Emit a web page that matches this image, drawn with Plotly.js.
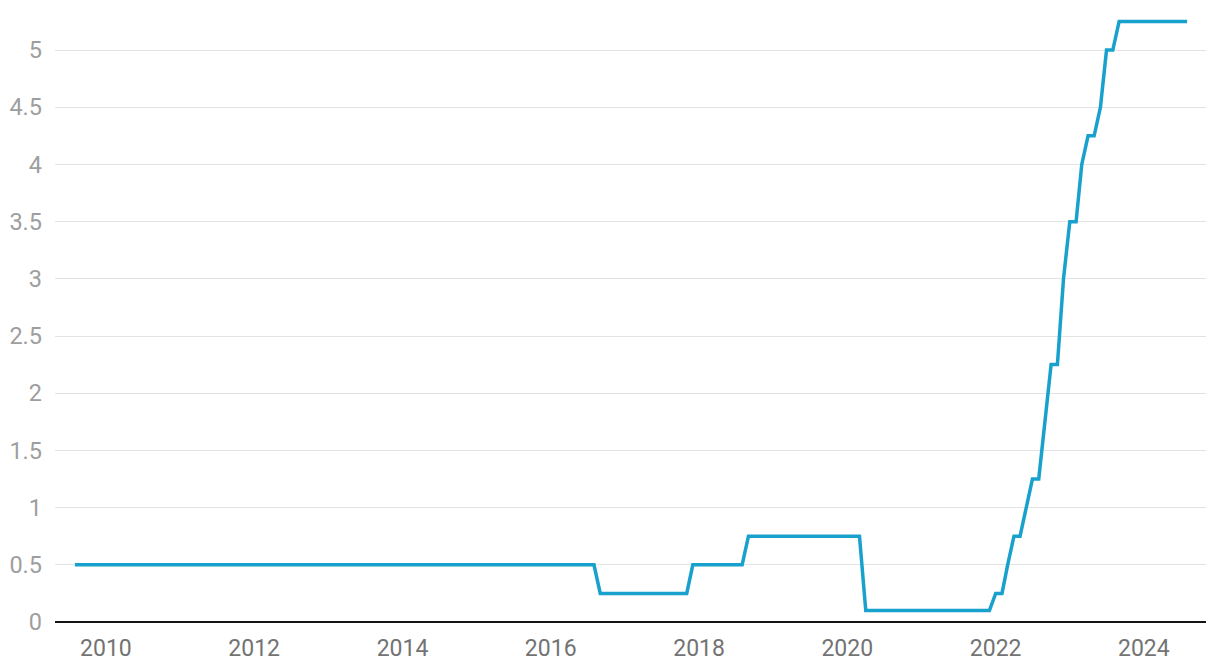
<!DOCTYPE html>
<html>
<head>
<meta charset="utf-8">
<script src="https://cdn.plot.ly/plotly-3.0.1.min.js"></script>
<style>html,body{margin:0;padding:0;background:#fff;}#chart{width:1220px;height:672px;}</style>
</head>
<body>
<div id="chart"></div>
<script>
// Monthly observations where the rate changes (start-of-month values)
const dates = [
  "2009-08-01","2016-08-01","2016-09-01","2017-11-01","2017-12-01",
  "2018-08-01","2018-09-01","2020-03-01","2020-04-01","2021-12-01",
  "2022-01-01","2022-02-01","2022-03-01","2022-04-01","2022-05-01",
  "2022-06-01","2022-07-01","2022-08-01","2022-09-01","2022-10-01",
  "2022-11-01","2022-12-01","2023-01-01","2023-02-01","2023-03-01",
  "2023-04-01","2023-05-01","2023-06-01","2023-07-01","2023-08-01",
  "2023-09-01","2024-08-01"
];
const rate = [
  0.5, 0.5, 0.25, 0.25, 0.5,
  0.5, 0.75, 0.75, 0.1, 0.1,
  0.25, 0.25, 0.5, 0.75, 0.75,
  1.0, 1.25, 1.25, 1.75, 2.25,
  2.25, 3.0, 3.5, 3.5, 4.0,
  4.25, 4.25, 4.5, 5.0, 5.0,
  5.25, 5.25
];
const yTicks = [0, 0.5, 1, 1.5, 2, 2.5, 3, 3.5, 4, 4.5, 5];
const yTickText = ["0", "0.5", "1", "1.5", "2", "2.5", "3", "3.5", "4", "4.5", "5"];

Plotly.newPlot("chart", [{
  x: dates, y: rate, type: "scatter", mode: "lines",
  line: {color: "#18a1cd", width: 3.5},
  hoverinfo: "x+y"
}], {
  width: 1220, height: 672,
  margin: {l: 55, r: 14, t: 10, b: 50},
  paper_bgcolor: "#fff", plot_bgcolor: "#fff",
  font: {family: "Roboto, sans-serif", size: 23},
  showlegend: false,
  xaxis: {
    type: "date",
    range: ["2009-04-25", "2024-11-02"],
    dtick: "M24", tick0: "2010-01-01", tickformat: "%Y",
    showgrid: false, zeroline: false, showline: false, ticks: "",
    tickfont: {color: "#737373", size: 23},
    ticklabelstandoff: 10
  },
  yaxis: {
    range: [0, 5.35],
    tickvals: yTicks, ticktext: yTickText,
    showgrid: true, gridcolor: "#e3e3e3", gridwidth: 1,
    zeroline: true, zerolinecolor: "#141414", zerolinewidth: 2,
    showline: false, ticks: "",
    tickfont: {color: "#9e9e9e", size: 23.5},
    ticklabelstandoff: 12
  }
}, {displayModeBar: false, staticPlot: true});
</script>
</body>
</html>
